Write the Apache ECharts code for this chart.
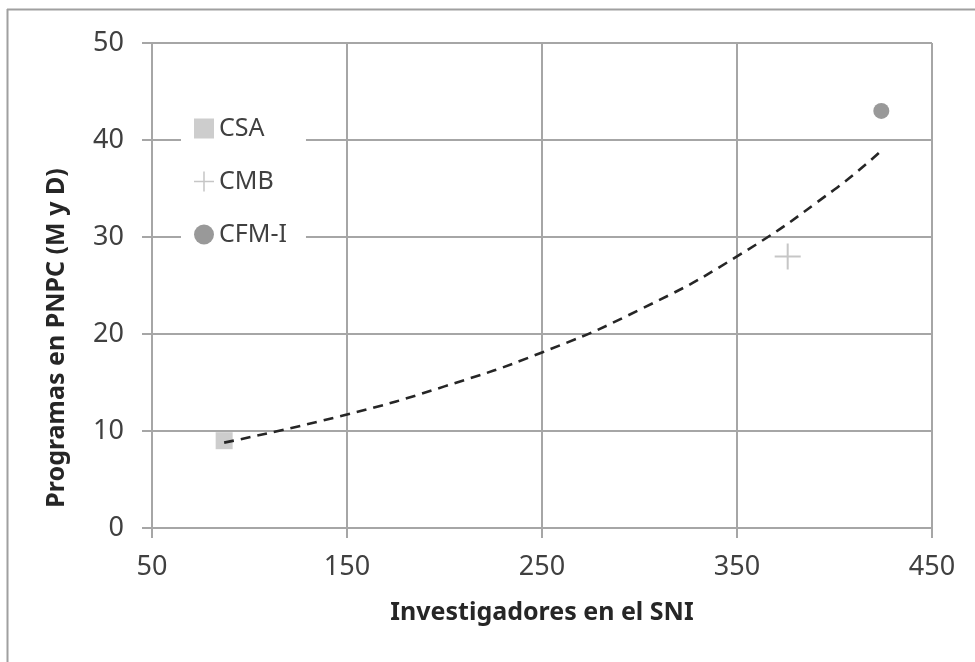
<!DOCTYPE html>
<html>
<head>
<meta charset="utf-8">
<script src="https://cdn.jsdelivr.net/npm/echarts@6/dist/echarts.min.js"></script>
<style>
html,body{margin:0;padding:0;background:#fff;}
#chart{width:975px;height:662px;}
</style>
</head>
<body>
<div id="chart"></div>
<script>
// Data
var seriesNames = ['CSA', 'CMB', 'CFM-I'];
var csaPoints = [[87, 9]];
var cmbPoints = [[376, 28]];
var cfmPoints = [[424, 43]];
// dashed trend curve
var trendX = [87, 150, 200, 250, 300, 350, 400, 424];
var trendY = [8.8, 11.7, 14.6, 18.1, 22.5, 28.0, 34.9, 38.9];
var xTicks = [50, 150, 250, 350, 450];
var yTicks = [0, 10, 20, 30, 40, 50];
var xTitle = 'Investigadores en el SNI';
var yTitle = 'Programas en PNPC (M y D)';

var FONT = 'Noto Sans';
var GRID = '#a6a6a6';
var plusPath = 'path://M0,12H26V14H0Z M12,0H14V26H12Z';

var trendData = trendX.map(function (x, i) { return [x, trendY[i]]; });

var chart = echarts.init(document.getElementById('chart'), null, {renderer: 'canvas'});
chart.setOption({
  animation: false,
  backgroundColor: '#fff',
  grid: {left: 152, right: 43, top: 43, bottom: 134, containLabel: false},
  xAxis: {
    type: 'value',
    min: xTicks[0], max: xTicks[xTicks.length - 1], interval: 100,
    axisLine: {show: true, lineStyle: {color: GRID, width: 2}},
    axisTick: {show: true, length: 10, lineStyle: {color: GRID, width: 2}},
    splitLine: {show: true, lineStyle: {color: GRID, width: 2}},
    axisLabel: {fontFamily: FONT, fontSize: 27, color: '#404040', margin: 26},
    name: xTitle, nameLocation: 'middle', nameGap: 72,
    nameTextStyle: {fontFamily: FONT, fontSize: 25, fontWeight: 'bold', color: '#262626'}
  },
  yAxis: {
    type: 'value',
    min: yTicks[0], max: yTicks[yTicks.length - 1], interval: 10,
    axisLine: {show: true, lineStyle: {color: GRID, width: 2}},
    axisTick: {show: true, length: 10, lineStyle: {color: GRID, width: 2}},
    splitLine: {show: true, lineStyle: {color: GRID, width: 2}},
    axisLabel: {fontFamily: FONT, fontSize: 27, color: '#404040', margin: 28}
  },
  legend: {
    orient: 'vertical',
    left: 181, top: 108,
    padding: [8, 19, 10, 13],
    backgroundColor: '#ffffff',
    itemWidth: 20, itemHeight: 20, itemGap: 28,
    selectedMode: false,
    textStyle: {fontFamily: FONT, fontSize: 25, color: '#404040'},
    data: seriesNames
  },
  series: [
    {name: seriesNames[0], type: 'scatter', data: csaPoints, symbol: 'rect', symbolSize: 17,
     itemStyle: {color: '#c0c0c0'}, z: 2},
    {name: seriesNames[1], type: 'scatter', data: cmbPoints, symbol: plusPath, symbolSize: 26,
     itemStyle: {color: '#b8b8b8'}, z: 2},
    {name: seriesNames[2], type: 'scatter', data: cfmPoints, symbol: 'circle', symbolSize: 16,
     itemStyle: {color: '#7f7f7f'}, z: 2},
    {name: 'trend', type: 'line', data: trendData, smooth: true, showSymbol: false, symbol: 'none',
     lineStyle: {color: '#262626', width: 2.6, type: [10, 7]}, z: 3, silent: true}
  ],
  graphic: [
    {type: 'line', shape: {x1: 7.5, y1: 9, x2: 7.5, y2: 662}, style: {stroke: '#a0a0a0', lineWidth: 2}},
    {type: 'line', shape: {x1: 7, y1: 9.5, x2: 975, y2: 9.5}, style: {stroke: '#a0a0a0', lineWidth: 2}},
    {type: 'text', x: 57, y: 338, rotation: Math.PI / 2,
     style: {text: yTitle, fontFamily: FONT, fontSize: 25, fontWeight: 'bold', fill: '#262626',
             textAlign: 'center', textVerticalAlign: 'middle'}}
  ]
});
</script>
</body>
</html>
